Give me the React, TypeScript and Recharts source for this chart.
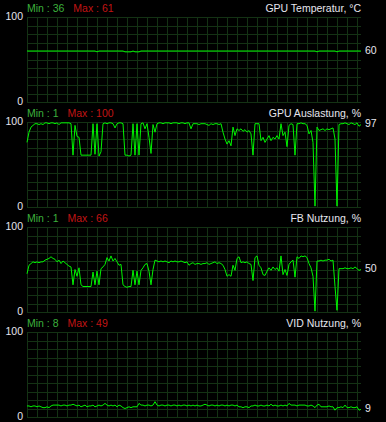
import React from "react";
import { LineChart, Line, XAxis, YAxis, CartesianGrid } from "recharts";

const titles = ["GPU Temperatur, °C", "GPU Auslastung, %", "FB Nutzung, %", "VID Nutzung, %"];
const minValues = [36, 1, 1, 8];
const maxValues = [61, 100, 66, 49];
const yTicks = [0, 10, 20, 30, 40, 50, 60, 70, 80, 90, 100];

const tempValues = [
  60, 60, 60, 60, 60, 60, 60, 60, 60, 60,
  60, 60, 60, 60, 60, 60, 60, 60, 60, 60,
  60, 60, 60, 60, 60, 60, 60, 60, 60, 60,
  60, 60, 60, 60, 60, 59, 60, 60, 60, 60,
  60, 60, 60, 60, 60, 60, 60, 60, 60, 59,
  59, 59, 59, 60, 59, 59, 59, 60, 60, 60,
  60, 60, 60, 60, 60, 60, 60, 60, 60, 60,
  60, 60, 60, 60, 60, 60, 60, 60, 60, 60,
  60, 60, 60, 60, 60, 60, 60, 60, 60, 60,
  60, 60, 60, 60, 60, 60, 60, 60, 60, 60,
  60, 60, 60, 60, 60, 60, 60, 60, 60, 60,
  60, 60, 60, 60, 60, 60, 60, 60, 60, 60,
  60, 60, 60, 60, 60, 60, 60, 60, 60, 60,
  60, 60, 60, 60, 60, 60, 60, 60, 60, 60,
  60, 60, 60, 60, 60, 59, 60, 60, 60, 60,
  60, 60, 60, 60, 60, 59, 60, 60, 60, 60,
  60, 60, 60, 60, 60, 60, 60, 60,
];

const loadValues = [
  76, 88, 94, 96, 98, 98, 97, 98, 97, 99,
  99, 98, 99, 99, 98, 99, 97, 99, 99, 99,
  99, 99, 98, 61, 96, 83, 82, 61, 61, 61,
  61, 61, 61, 98, 62, 98, 60, 65, 98, 99,
  98, 99, 99, 98, 93, 98, 99, 99, 98, 61,
  61, 60, 61, 98, 61, 98, 61, 98, 99, 92,
  98, 82, 63, 97, 88, 98, 99, 99, 98, 99,
  99, 99, 98, 99, 99, 99, 98, 99, 99, 98,
  99, 99, 92, 98, 98, 98, 97, 98, 98, 98,
  97, 96, 98, 97, 98, 98, 97, 98, 88, 80,
  74, 78, 72, 94, 84, 92, 90, 92, 89, 91,
  88, 90, 86, 61, 98, 98, 98, 78, 82, 76,
  80, 84, 78, 82, 80, 84, 80, 98, 84, 88,
  71, 96, 98, 97, 61, 98, 98, 99, 98, 98,
  96, 86, 90, 76, 1, 94, 90, 91, 92, 90,
  92, 91, 92, 93, 80, 1, 97, 98, 98, 99,
  98, 97, 99, 98, 97, 99, 95, 97,
];

const fbValues = [
  45, 55, 57, 59, 58, 59, 58, 59, 59, 61,
  62, 63, 65, 63, 62, 59, 61, 57, 60, 58,
  56, 54, 53, 32, 50, 42, 52, 32, 30, 30,
  30, 30, 30, 47, 32, 48, 32, 51, 53, 56,
  64, 60, 66, 60, 63, 59, 55, 56, 32, 30,
  29, 30, 30, 49, 32, 48, 32, 49, 52, 56,
  57, 48, 32, 50, 61, 60, 59, 60, 59, 60,
  59, 58, 60, 59, 60, 59, 59, 60, 59, 58,
  59, 55, 57, 58, 56, 57, 57, 56, 57, 57,
  58, 56, 57, 58, 59, 57, 58, 57, 55, 50,
  42, 44, 42, 55, 49, 63, 65, 58, 59, 58,
  59, 57, 56, 37, 64, 66, 55, 52, 44, 43,
  48, 52, 49, 53, 50, 52, 48, 66, 44, 50,
  43, 56, 59, 61, 41, 65, 63, 66, 65, 66,
  64, 57, 52, 42, 1, 60, 60, 61, 60, 61,
  61, 62, 60, 61, 30, 2, 51, 51, 51, 52,
  51, 51, 52, 51, 53, 51, 49, 50,
];

const vidValues = [
  13, 13, 12, 13, 13, 12, 13, 12, 11, 11,
  12, 11, 13, 14, 14, 14, 14, 13, 14, 14,
  13, 14, 14, 15, 14, 13, 14, 12, 13, 14,
  12, 13, 13, 14, 12, 13, 14, 13, 14, 16,
  14, 13, 14, 13, 14, 12, 14, 13, 11, 10,
  11, 12, 11, 12, 12, 12, 16, 14, 14, 13,
  14, 14, 13, 14, 18, 14, 13, 14, 14, 13,
  14, 14, 13, 14, 14, 13, 14, 13, 14, 14,
  13, 14, 13, 14, 13, 14, 13, 13, 14, 15,
  14, 13, 14, 14, 13, 14, 13, 14, 14, 13,
  14, 13, 14, 14, 13, 14, 12, 12, 11, 12,
  12, 11, 13, 13, 14, 13, 13, 14, 13, 13,
  14, 13, 15, 13, 14, 13, 13, 14, 13, 14,
  13, 16, 14, 14, 14, 13, 14, 14, 14, 14,
  13, 13, 14, 13, 11, 14, 15, 12, 12, 12,
  12, 13, 12, 12, 8, 11, 11, 12, 11, 14,
  11, 11, 12, 11, 11, 12, 8, 9,
];

const seriesList = [tempValues, loadValues, fbValues, vidValues];

const FONT = '"Liberation Sans", Arial, sans-serif';
const PANEL_W = 386;
const PANEL_STEP = 105;
const PANEL_H = 113;
const GRID = "#143214";
const LINE = "#00f400";
const TEXT = "#e6e6ee";
const MIN_C = "#3cb03c";
const MAX_C = "#c01414";

const vGen = (props: any) => {
  const { offset } = props;
  const out: number[] = [];
  for (let x = offset.left; x <= offset.left + offset.width - 2; x += 10) out.push(Math.round(x) + 0.5);
  return out;
};
const hGen = (props: any) => {
  const { offset } = props;
  const out: number[] = [];
  for (let k = 0; k <= 10; k++) out.push(Math.round(offset.top + (offset.height * k) / 10) + 0.5);
  return out;
};

const YTick = (props: any) => {
  const { x, y, payload } = props;
  if (payload.value !== 0 && payload.value !== 100) return <g />;
  return (
    <text x={x} y={y + 3} textAnchor="end" fontSize={10.5} fontFamily={FONT} fill={TEXT}>
      {payload.value}
    </text>
  );
};

function Panel({ values }: { values: number[] }) {
  const data = values.map((v, i) => ({ i, v }));
  const last = data.length - 1;
  const renderLabel = (p: any) => {
    if (p.index !== last) return <g key={p.index} />;
    return (
      <text key="lbl" x={p.x + 4} y={p.y + 2.7} fontSize={10.5} fontFamily={FONT} fill={TEXT}>
        {p.value}
      </text>
    );
  };
  return (
    <LineChart width={PANEL_W} height={PANEL_H} data={data} margin={{ top: 17, right: 25, bottom: 11, left: 0 }}>
      <CartesianGrid stroke={GRID} strokeWidth={1} verticalCoordinatesGenerator={vGen} horizontalCoordinatesGenerator={hGen} />
      <XAxis type="number" dataKey="i" domain={[0, last]} hide />
      <YAxis
        domain={[0, 100]}
        ticks={yTicks}
        interval={0}
        width={27}
        axisLine={false}
        tickLine={false}
        tickSize={0}
        tickMargin={4}
        tick={YTick}
      />
      <Line
        dataKey="v"
        type="linear"
        stroke={LINE}
        strokeWidth={1}
        dot={false}
        activeDot={false}
        isAnimationActive={false}
        label={renderLabel}
      />
    </LineChart>
  );
}

export default function App() {
  return (
    <div
      style={{
        position: "absolute",
        left: 0,
        top: 0,
        width: PANEL_W,
        height: 422,
        background: "#000",
        fontFamily: FONT,
        overflow: "hidden",
      }}
    >
      {seriesList.map((vals, k) => (
        <div key={k} style={{ position: "absolute", left: 0, top: k * PANEL_STEP }}>
          <Panel values={vals} />
        </div>
      ))}
      <svg width={PANEL_W} height={422} style={{ position: "absolute", left: 0, top: 0, pointerEvents: "none" }}>
        {titles.map((t, k) => (
          <g key={k} fontFamily={FONT} fontSize={10.5}>
            <text x={27} y={12 + k * PANEL_STEP}>
              <tspan fill={MIN_C}>{`Min : ${minValues[k]}`}</tspan>
              <tspan fill={MAX_C} dx={9}>{`Max : ${maxValues[k]}`}</tspan>
            </text>
            <text x={361} y={12 + k * PANEL_STEP} textAnchor="end" fill={TEXT}>
              {t}
            </text>
          </g>
        ))}
      </svg>
    </div>
  );
}
